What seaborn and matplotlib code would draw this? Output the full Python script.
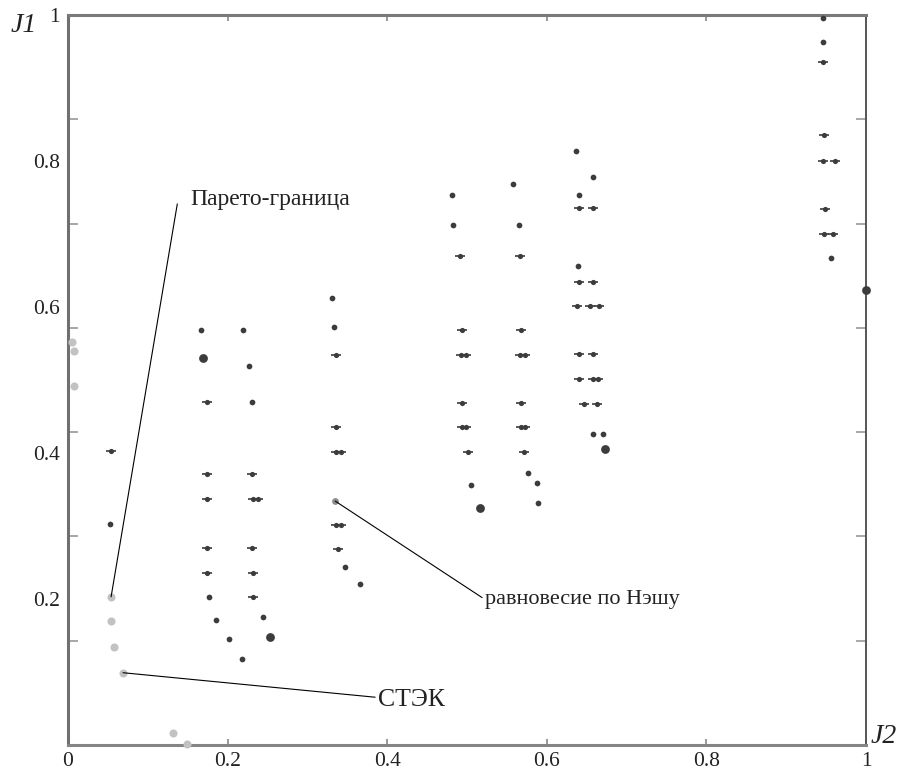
import numpy as np
import pandas as pd
import seaborn as sns
import matplotlib.pyplot as plt
from matplotlib.ticker import FixedLocator

# ── Data (J2 on x, J1 on y) ──────────────────────────────────────────
dot_j2 = [0.053, 0.167, 0.177, 0.185, 0.202, 0.218, 0.219, 0.227, 0.231, 0.244,
          0.331, 0.333, 0.347, 0.366, 0.481, 0.482, 0.505,
          0.558, 0.565, 0.576, 0.588, 0.589,
          0.637, 0.658, 0.640, 0.639, 0.658, 0.670,
          0.946, 0.946, 0.956]
dot_j1 = [0.303, 0.568, 0.203, 0.171, 0.145, 0.118, 0.568, 0.519, 0.470, 0.175,
          0.612, 0.573, 0.244, 0.221, 0.753, 0.712, 0.356,
          0.768, 0.712, 0.373, 0.359, 0.332,
          0.814, 0.778, 0.753, 0.656, 0.426, 0.426,
          0.996, 0.963, 0.667]

plus_j2 = [0.054,
           0.174, 0.174, 0.174, 0.174, 0.174,
           0.231, 0.232, 0.238, 0.231, 0.232, 0.232,
           0.336, 0.336, 0.336, 0.342, 0.336, 0.342, 0.338,
           0.491, 0.494, 0.493, 0.499, 0.494, 0.494, 0.499, 0.501,
           0.566, 0.568, 0.566, 0.573, 0.568, 0.568, 0.573, 0.571,
           0.640, 0.658, 0.640, 0.658, 0.638, 0.654, 0.665, 0.640, 0.658,
           0.640, 0.658, 0.664, 0.647, 0.663,
           0.946, 0.947, 0.946, 0.961, 0.949, 0.947, 0.959]
plus_j1 = [0.403,
           0.470, 0.371, 0.337, 0.270, 0.236,
           0.371, 0.337, 0.337, 0.270, 0.236, 0.203,
           0.534, 0.436, 0.401, 0.401, 0.301, 0.301, 0.268,
           0.670, 0.568, 0.534, 0.534, 0.468, 0.436, 0.436, 0.401,
           0.670, 0.568, 0.534, 0.534, 0.468, 0.436, 0.436, 0.401,
           0.736, 0.736, 0.634, 0.634, 0.601, 0.601, 0.601, 0.536, 0.536,
           0.501, 0.501, 0.501, 0.467, 0.467,
           0.936, 0.836, 0.800, 0.800, 0.734, 0.700, 0.700]

big_j2 = [0.169, 0.253, 0.516, 0.673, 1.0]
big_j1 = [0.530, 0.148, 0.325, 0.405, 0.623]

# Pareto-front points (light grey)
pareto_j2 = [0.005, 0.0075, 0.0075, 0.054, 0.054, 0.058, 0.069, 0.132, 0.149]
pareto_j1 = [0.552, 0.540, 0.492, 0.203, 0.170, 0.134, 0.099, 0.016, 0.001]

nash_j2 = [0.335]
nash_j1 = [0.334]

DARK = '#3c3c3c'
LIGHT = '#c2c2c2'
SERIF = ['Liberation Serif', 'DejaVu Serif']

sns.set_style('white')
plt.rcParams['font.family'] = SERIF

fig = plt.figure(figsize=(8.99, 7.70), dpi=100)
ax = fig.add_axes([68 / 899, 25 / 770, 798 / 899, 730 / 770])

common = dict(ax=ax, clip_on=False, zorder=3, legend=False, linewidth=0)
sns.scatterplot(x=pareto_j2, y=pareto_j1, color=LIGHT, s=34, **common)
sns.scatterplot(x=dot_j2, y=dot_j1, color=DARK, s=17, **common)
sns.scatterplot(x=big_j2, y=big_j1, color=DARK, s=40, **common)
# "+" marks: short dash with a dot on it
sns.scatterplot(x=plus_j2, y=plus_j1, color=DARK, marker='_', s=55,
                ax=ax, clip_on=False, zorder=3, legend=False, linewidth=1.2)
sns.scatterplot(x=plus_j2, y=plus_j1, color=DARK, s=14, **common)
sns.scatterplot(x=nash_j2, y=nash_j1, color='#8c8c8c', s=24, **common)

# ── Annotations ──────────────────────────────────────────────────────
line = dict(arrowstyle='-', color='black', lw=0.8, shrinkA=0, shrinkB=0)
ax.annotate('Парето-граница', xy=(pareto_j2[3], pareto_j1[3]), xytext=(0.153, 0.747),
            arrowprops=dict(line, relpos=(-0.08, 0.3)), fontsize=17, va='center', ha='left',
            color='#222222')
ax.annotate('равновесие по Нэшу', xy=(nash_j2[0], nash_j1[0]), xytext=(0.523, 0.199),
            arrowprops=dict(line, relpos=(0, 0.5)), fontsize=16, va='center', ha='left',
            color='#222222')
ax.annotate('СТЭК', xy=(pareto_j2[6], pareto_j1[6]), xytext=(0.389, 0.062),
            arrowprops=dict(line, relpos=(0, 0.6)), fontsize=18.5, va='center', ha='left',
            color='#222222')

# ── Axes ─────────────────────────────────────────────────────────────
ax.set_xlim(0, 1)
ax.set_ylim(0, 1)
ax.set_xticks([0, 0.2, 0.4, 0.6, 0.8, 1])
ax.set_xticklabels(['0', '0.2', '0.4', '0.6', '0.8', '1'])
ax.set_yticks([0.2, 0.4, 0.6, 0.8, 1])
ax.set_yticklabels(['0.2', '0.4', '0.6', '0.8', '1'])
ax.yaxis.set_minor_locator(FixedLocator(np.arange(1, 7) / 7))

ax.tick_params(axis='x', which='major', direction='in', length=4, width=1.2,
               color='#888888', top=True, bottom=True, labelsize=15.5,
               labelcolor='#222222', pad=5)
ax.tick_params(axis='y', which='major', length=0, labelsize=15.5,
               labelcolor='#222222', pad=6)
ax.tick_params(axis='y', which='minor', direction='in', length=7, width=1.2,
               color='#9a9a9a', left=True, right=True)

for side, lw, col in [('left', 2.2, '#707070'), ('bottom', 2.2, '#858585'),
                      ('top', 2.2, '#7a7a7a'), ('right', 1.4, '#555555')]:
    ax.spines[side].set_visible(True)
    ax.spines[side].set_linewidth(lw)
    ax.spines[side].set_color(col)

ax.text(-0.072, 0.985, 'J1', transform=ax.transAxes, fontsize=20, style='italic',
        ha='left', va='center', color='#222222')
ax.text(1.006, 0.012, 'J2', transform=ax.transAxes, fontsize=20, style='italic',
        ha='left', va='center', color='#222222')

fig.savefig('out.png', dpi=100)
